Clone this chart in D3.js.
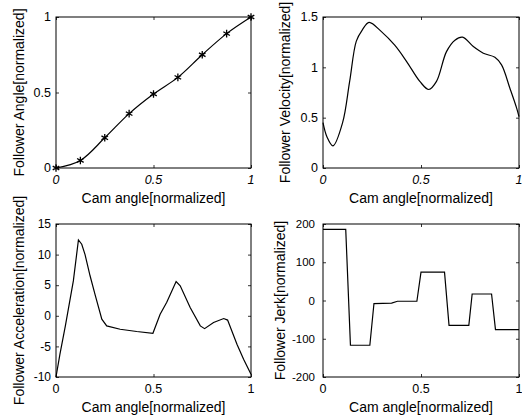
<!DOCTYPE html>
<html>
<head>
<meta charset="utf-8">
<script src="https://cdn.jsdelivr.net/npm/d3@7"></script>
<style>
body { margin: 0; background: #fff; }
text { font-family: "Liberation Sans", Arial, sans-serif; fill: #000; }
</style>
</head>
<body>
<svg id="chart" width="522" height="418"></svg>
<script>
// values
const camTicks = [0, 0.5, 1];

const angleX = [0, 0.125, 0.25, 0.375, 0.5, 0.625, 0.75, 0.875, 1];
const angleY = [0, 0.05, 0.2, 0.36, 0.49, 0.6, 0.75, 0.89, 1];
const angleTicks = [0, 0.5, 1];

const velX = [0, 0.02, 0.051, 0.1, 0.136, 0.17, 0.2, 0.235, 0.298, 0.366, 0.426, 0.494, 0.54, 0.579, 0.63, 0.673, 0.712, 0.767, 0.818, 0.877, 0.911, 0.954, 0.988, 1];
const velY = [0.45, 0.31, 0.22, 0.45, 0.86, 1.26, 1.37, 1.447, 1.355, 1.22, 1.06, 0.86, 0.78, 0.86, 1.156, 1.27, 1.30, 1.206, 1.14, 1.10, 1.024, 0.79, 0.595, 0.51];
const velTicks = [0, 0.5, 1, 1.5];

const accX = [0, 0.02, 0.048, 0.089, 0.115, 0.132, 0.149, 0.175, 0.2, 0.235, 0.26, 0.329, 0.414, 0.497, 0.534, 0.568, 0.616, 0.637, 0.688, 0.74, 0.762, 0.808, 0.86, 0.88, 0.928, 0.962, 1];
const accY = [-10, -6.3, -1.65, 5.7, 12.4, 11.7, 10.0, 6.5, 3.5, -0.55, -1.65, -2.2, -2.57, -2.85, 0.26, 2.2, 5.6, 4.9, 1.35, -1.65, -2.1, -1.1, -0.45, -0.7, -4.65, -7.1, -9.55];
const accTicks = [-10, -5, 0, 5, 10, 15];

const jerkX = [0, 0.116, 0.14, 0.239, 0.26, 0.35, 0.38, 0.479, 0.5, 0.62, 0.643, 0.744, 0.761, 0.86, 0.88, 1];
const jerkY = [186, 186, -117, -117, -8, -7, -2, -2, 74, 74, -65, -65, 17, 17, -76, -76];
const jerkTicks = [-200, -100, 0, 100, 200];

const svg = d3.select("#chart");

// one entry per subplot, built from the arrays above
const panels = [
  {xs: angleX, ys: angleY, ticks: angleTicks, title: "Follower Angle[normalized]",
   box: [56, 251, 17, 168], labelX: 23.5, curve: d3.curveCatmullRom, markers: true, italicX: true, yFont: 12.5, yGap: 5},
  {xs: velX, ys: velY, ticks: velTicks, title: "Follower Velocity[normalized]",
   box: [323, 519, 17, 168], labelX: 290, curve: d3.curveCatmullRom, markers: false, italicX: true, yFont: 12.5, yGap: 5},
  {xs: accX, ys: accY, ticks: accTicks, title: "Follower Acceleration[normalized]",
   box: [56, 251, 224, 377], labelX: 23.5, curve: d3.curveLinear, markers: false, italicX: false, yFont: 12, yGap: 5},
  {xs: jerkX, ys: jerkY, ticks: jerkTicks, title: "Follower Jerk[normalized]",
   box: [323, 519, 224, 377], labelX: 285, curve: d3.curveLinear, markers: false, italicX: false, yFont: 11.5, yGap: 8}
];

panels.forEach(p => {
  const [left, right, top, bottom] = p.box;
  const x = d3.scaleLinear().domain([0, 1]).range([left, right]);
  const y = d3.scaleLinear().domain(d3.extent(p.ticks)).range([bottom, top]);
  const g = svg.append("g");

  // inside ticks on all four sides, like the matlab box
  const tickStyle = sel => {
    sel.select(".domain").remove();
    sel.selectAll(".tick line").attr("stroke", "#000").attr("stroke-width", 0.8);
    sel.selectAll(".tick text").remove();
  };
  g.append("g").attr("transform", `translate(0,${bottom})`)
    .call(d3.axisBottom(x).tickValues(camTicks).tickSizeInner(-3).tickSizeOuter(0)).call(tickStyle);
  g.append("g").attr("transform", `translate(0,${top})`)
    .call(d3.axisTop(x).tickValues(camTicks).tickSizeInner(-3).tickSizeOuter(0)).call(tickStyle);
  g.append("g").attr("transform", `translate(${left},0)`)
    .call(d3.axisLeft(y).tickValues(p.ticks).tickSizeInner(-3).tickSizeOuter(0)).call(tickStyle);
  g.append("g").attr("transform", `translate(${right},0)`)
    .call(d3.axisRight(y).tickValues(p.ticks).tickSizeInner(-3).tickSizeOuter(0)).call(tickStyle);

  g.append("rect")
    .attr("x", left).attr("y", top)
    .attr("width", right - left).attr("height", bottom - top)
    .attr("fill", "none").attr("stroke", "#000").attr("stroke-width", 1);

  // tick labels
  g.selectAll(".xl").data(camTicks).enter().append("text")
    .attr("x", d => x(d)).attr("y", bottom + 12)
    .attr("dy", "0.35em")
    .attr("text-anchor", "middle")
    .style("font-size", "12.5px")
    .style("font-style", p.italicX ? "italic" : "normal")
    .text(d => d);
  g.selectAll(".yl").data(p.ticks).enter().append("text")
    .attr("x", left - p.yGap).attr("y", d => y(d))
    .attr("dy", "0.35em")
    .attr("text-anchor", "end")
    .style("font-size", p.yFont + "px")
    .text(d => d);

  // axis titles
  g.append("text")
    .attr("x", (left + right) / 2).attr("y", bottom + 35)
    .attr("text-anchor", "middle")
    .style("font-size", "14px")
    .text("Cam angle[normalized]");
  g.append("text")
    .attr("transform", `translate(${p.labelX},${(top + bottom) / 2}) rotate(-90)`)
    .attr("text-anchor", "middle")
    .style("font-size", "14px")
    .text(p.title);

  const pts = p.xs.map((v, i) => [v, p.ys[i]]);
  const line = d3.line().x(d => x(d[0])).y(d => y(d[1])).curve(p.curve);
  g.append("path")
    .datum(pts)
    .attr("d", line)
    .attr("fill", "none")
    .attr("stroke", "#000")
    .attr("stroke-width", 1.2);

  if (p.markers) {
    g.selectAll(".mk").data(pts).enter().append("path")
      .attr("transform", d => `translate(${x(d[0])},${y(d[1])})`)
      .attr("d", d3.symbol(d3.symbolAsterisk, 40))
      .attr("fill", "none")
      .attr("stroke", "#000")
      .attr("stroke-width", 1.3);
  }
});
</script>
</body>
</html>
